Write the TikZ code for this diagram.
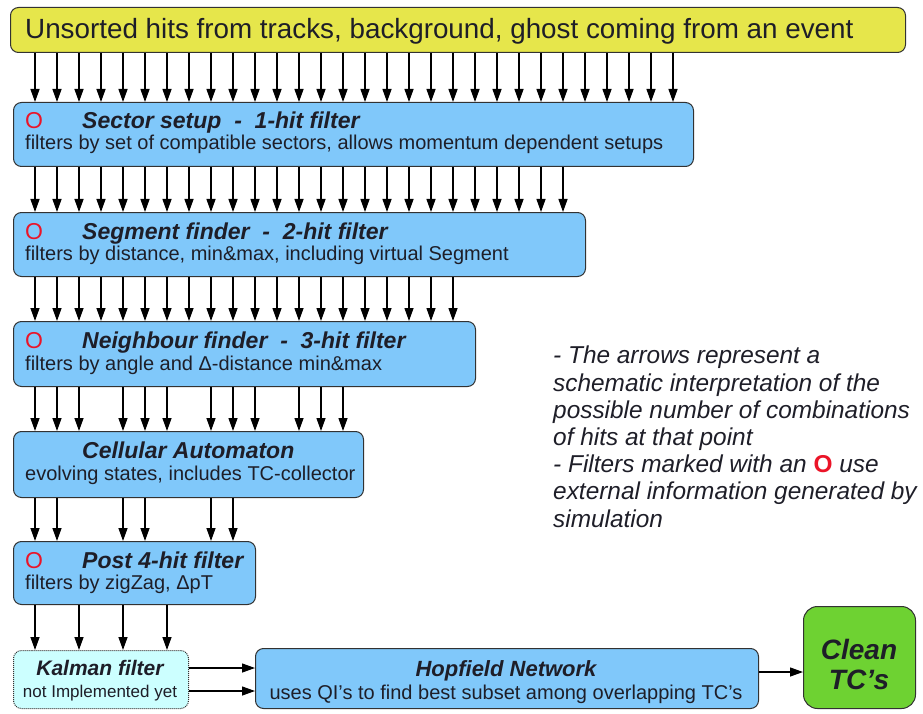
\documentclass[tikz,border=0pt]{standalone}
\usepackage{fontspec}
\setmainfont{Liberation Sans}
\usetikzlibrary{arrows.meta}
\definecolor{yfill}{RGB}{230,230,75}
\definecolor{bfill}{RGB}{128,200,250}
\definecolor{kfill}{RGB}{204,255,255}
\definecolor{gfill}{RGB}{110,210,50}
\definecolor{edge}{RGB}{50,50,50}
\definecolor{txt}{RGB}{30,30,40}
\definecolor{redo}{RGB}{235,20,40}
\newcommand\ttlfont{\fontsize{23}{26}\selectfont\bfseries\itshape}
\newcommand\subfont{\fontsize{20}{22}\selectfont}
\newcommand\redO{{\fontsize{23}{26}\selectfont\color{redo}O}}
\begin{document}
\begin{tikzpicture}[x=1pt,y=-1pt,
  box/.style={draw=edge, line width=1pt, rounded corners=8pt, fill=bfill, anchor=north west, inner sep=0pt},
  arr/.style={-{Triangle[length=13pt,width=9pt]}, line width=1.3pt, black},
  lbl/.style={anchor=base west, inner sep=0pt, text=txt},
  clbl/.style={anchor=base, inner sep=0pt, text=txt}]
\useasboundingbox (0,0) rectangle (923,714);
% columns
\foreach \k in {0,...,29} {\coordinate (c\k) at ({35+22*\k},0);}
% boxes
\node[box, fill=yfill, minimum width=895pt, minimum height=45pt] (top) at (10,7) {};
\node[box, minimum width=680pt, minimum height=64pt] (sector) at (13,102) {};
\node[box, minimum width=572pt, minimum height=64pt] (segment) at (13,212) {};
\node[box, minimum width=462pt, minimum height=65pt] (neigh) at (13,321) {};
\node[box, minimum width=350pt, minimum height=66pt] (ca) at (13,431) {};
\node[box, minimum width=242pt, minimum height=63pt] (post) at (13,541) {};
\node[box, fill=kfill, densely dotted, minimum width=175pt, minimum height=58pt] (kalman) at (13,650) {};
\node[box, minimum width=503pt, minimum height=60pt] (hop) at (255,648) {};
\node[box, fill=gfill, rounded corners=14pt, minimum width=112pt, minimum height=102pt] (clean) at (803,606) {};
% texts
\node[lbl] (toptxt) at (25,39) {\fontsize{27.8}{30}\selectfont Unsorted hits from tracks, background, ghost coming from an event};
\node[lbl] (o1) at (25,129) {\redO};
\node[lbl] (t1) at (82,129) {\ttlfont Sector setup\ \ -\ \ 1-hit filter};
\node[lbl] (s1) at (25,150) {\subfont filters by set of compatible sectors, allows momentum dependent setups};
\node[lbl] (o2) at (25,239) {\redO};
\node[lbl] (t2) at (82,239) {\ttlfont Segment finder\ \ -\ \ 2-hit filter};
\node[lbl] (s2) at (25,260) {\subfont filters by distance, min\&max, including virtual Segment};
\node[lbl] (o3) at (25,348) {\redO};
\node[lbl] (t3) at (82,348) {\ttlfont Neighbour finder\ \ -\ \ 3-hit filter};
\node[lbl] (s3) at (25,370) {\subfont filters by angle and Δ-distance min\&max};
\node[lbl] (t4) at (82,458) {\ttlfont Cellular Automaton};
\node[lbl] (s4) at (25,480) {\subfont evolving states, includes TC-collector};
\node[lbl] (o5) at (25,568) {\redO};
\node[lbl] (t5) at (82,568) {\ttlfont Post 4-hit filter};
\node[lbl] (s5) at (25,589) {\subfont filters by zigZag, ΔpT};
\node[clbl] (t6) at (100,675) {\fontsize{21}{24}\selectfont\bfseries\itshape Kalman filter};
\node[clbl] (s6) at (100,697) {\fontsize{17}{20}\selectfont not Implemented yet};
\node[clbl] (t7) at (506,676) {\fontsize{22}{25}\selectfont\bfseries\itshape Hopfield Network};
\node[clbl] (s7) at (506,699) {\fontsize{20}{22}\selectfont uses QI's to find best subset among overlapping TC's};
\node[clbl] (t8) at (859,659) {\fontsize{28}{30}\selectfont\bfseries\itshape Clean};
\node[clbl] (s8) at (859,689) {\fontsize{28}{30}\selectfont\bfseries\itshape TC's};
\node[anchor=north west, inner sep=0pt, align=left, text=txt,
  font={\fontsize{24.4}{27.2}\selectfont\itshape}] (note) at (553,346)
 {- The arrows represent a\\
 schematic interpretation of the\\
 possible number of combinations\\
 of hits at that point\\
 - Filters marked with an {\upshape\bfseries\color{redo}O} use\\
 external information generated by\\
 simulation};
% arrows
\foreach \k in {0,...,29} {\draw[arr] (top.south -| c\k) -- (sector.north -| c\k);}
\foreach \k in {0,...,24} {\draw[arr] (sector.south -| c\k) -- (segment.north -| c\k);}
\foreach \k in {0,...,19} {\draw[arr] (segment.south -| c\k) -- (neigh.north -| c\k);}
\foreach \k in {0,1,2,4,5,6,8,9,10,12,13,14} {\draw[arr] (neigh.south -| c\k) -- (ca.north -| c\k);}
\foreach \k in {0,1,4,5,8,9} {\draw[arr] (ca.south -| c\k) -- (post.north -| c\k);}
\foreach \k in {0,2,4,6} {\draw[arr] (post.south -| c\k) -- (kalman.north -| c\k);}
\coordinate (ka1) at (0,668);
\coordinate (ka2) at (0,691);
\coordinate (hc) at (0,672);
\draw[arr] (kalman.east |- ka1) -- (hop.west |- ka1);
\draw[arr] (kalman.east |- ka2) -- (hop.west |- ka2);
\draw[arr] (hop.east |- hc) -- (clean.west |- hc);
\end{tikzpicture}
\end{document}
